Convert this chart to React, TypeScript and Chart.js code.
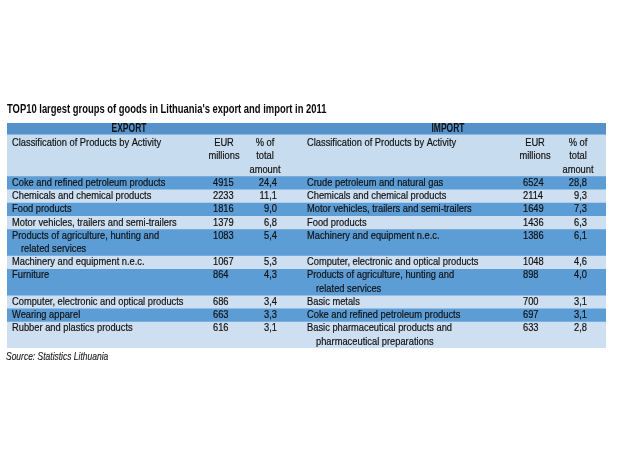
import React, { useEffect, useRef } from "react";
import { Chart, registerables } from "chart.js";
Chart.register(...registerables);

const TITLE = "TOP10 largest groups of goods in Lithuania's export and import in 2011";
const SOURCE = "Source: Statistics Lithuania";
const SECTIONS = ["EXPORT", "IMPORT"];
const NAME_HEADER = ["Classification of Products by Activity"];
const EUR_HEADER = ["EUR", "millions"];
const SHARE_HEADER = ["% of", "total", "amount"];

const exportProducts: string[][] = [
  ["Coke and refined petroleum products"],
  ["Chemicals and chemical products"],
  ["Food products"],
  ["Motor vehicles, trailers and semi-trailers"],
  ["Products of agriculture, hunting and", "related services"],
  ["Machinery and equipment n.e.c."],
  ["Furniture"],
  ["Computer, electronic and optical products"],
  ["Wearing apparel"],
  ["Rubber and plastics products"],
];
const exportEur = [4915, 2233, 1816, 1379, 1083, 1067, 864, 686, 663, 616];
const exportShare = [24.4, 11.1, 9.0, 6.8, 5.4, 5.3, 4.3, 3.4, 3.3, 3.1];

const importProducts: string[][] = [
  ["Crude petroleum and natural gas"],
  ["Chemicals and chemical products"],
  ["Motor vehicles, trailers and semi-trailers"],
  ["Food products"],
  ["Machinery and equipment n.e.c."],
  ["Computer, electronic and optical products"],
  ["Products of agriculture, hunting and", "related services"],
  ["Basic metals"],
  ["Coke and refined petroleum products"],
  ["Basic pharmaceutical products and", "pharmaceutical preparations"],
];
const importEur = [6524, 2114, 1649, 1436, 1386, 1048, 898, 700, 697, 633];
const importShare = [28.8, 9.3, 7.3, 6.3, 6.1, 4.6, 4.0, 3.1, 3.1, 2.8];

// ---- style / layout constants ----
const FONT = '"Liberation Sans", Arial, sans-serif';
const TEXT = "#111111";
const HEADER_BG = "#5592cc";
const DARK_BG = "#5c9dd6";
const LIGHT_BG = "#cddff1";
const SUB_BG = "#c8dcef";
const HEADER_LINES = 0.85;
const SUB_LINES = 3.15;
const SUB_TEXT_OFFSET = 0.12;
const SUB_LINE_STEP = 1.02;
const TITLE_LINE = -1.02;
const SOURCE_GAP = 0.66;
const TABLE_WIDTH = 599;
const BODY_FONT = { size: 11.8, weight: "normal", style: "normal", hs: 0.79, stroke: 0.2 };
const HEAD_FONT = { size: 12, weight: "bold", style: "normal", hs: 0.71, stroke: 0 };
const TITLE_FONT = { size: 13, weight: "bold", style: "normal", hs: 0.724, stroke: 0 };
const SOURCE_FONT = { size: 11.5, weight: "normal", style: "italic", hs: 0.737, stroke: 0.15 };
// column positions in table units (0..TABLE_WIDTH)
const SIDES = [
  { section: 122, name: 5, eurLeft: 206, eurHdr: 217, shareRight: 270, shareHdr: 258 },
  { section: 441, name: 300, eurLeft: 516, eurHdr: 528, shareRight: 580, shareHdr: 571 },
];
const INDENT = 9;

const fmtShare = (v: number) => v.toFixed(1).replace(".", ",");

const rowLines = exportProducts.map((p, i) => Math.max(p.length, importProducts[i].length));
const TOTAL_LINES = HEADER_LINES + SUB_LINES + rowLines.reduce((a, b) => a + b, 0);

function drawText(ctx: CanvasRenderingContext2D, text: string, x: number, y: number, align: CanvasTextAlign, f: any, color = TEXT) {
  ctx.save();
  ctx.translate(x, y);
  ctx.scale(f.hs, 1);
  ctx.font = `${f.style} ${f.weight} ${f.size}px ${FONT}`;
  ctx.fillStyle = color;
  ctx.textAlign = align;
  ctx.textBaseline = "middle";
  ctx.fillText(text, 0, 0);
  if (f.stroke) {
    ctx.strokeStyle = color;
    ctx.lineWidth = f.stroke;
    ctx.strokeText(text, 0, 0);
  }
  ctx.restore();
}

const tablePlugin = {
  id: "tableText",
  afterDatasetsDraw(chart: any) {
    const ctx = chart.ctx;
    const y = chart.scales.y;
    const xt = chart.scales.xt;
    const X = (u: number) => xt.getPixelForValue(u);
    const Y = (l: number) => y.getPixelForValue(l);
    // title & source
    drawText(ctx, TITLE, X(0), Y(TITLE_LINE), "left", TITLE_FONT, "#0a0a0a");
    drawText(ctx, SOURCE, X(-1), Y(TOTAL_LINES + SOURCE_GAP), "left", SOURCE_FONT, "#1a1a1a");
    // section headers
    SECTIONS.forEach((s, i) => drawText(ctx, s, X(SIDES[i].section), Y(HEADER_LINES / 2), "center", HEAD_FONT));
    // sub headers
    const subStart = HEADER_LINES + SUB_TEXT_OFFSET;
    const subY = (k: number) => Y(subStart + k * SUB_LINE_STEP + 0.5);
    SIDES.forEach((c) => {
      NAME_HEADER.forEach((t, k) => drawText(ctx, t, X(c.name), subY(k), "left", BODY_FONT));
      EUR_HEADER.forEach((t, k) => drawText(ctx, t, X(c.eurHdr), subY(k), "center", BODY_FONT));
      SHARE_HEADER.forEach((t, k) => drawText(ctx, t, X(c.shareHdr), subY(k), "center", BODY_FONT));
    });
    // data rows
    let start = HEADER_LINES + SUB_LINES;
    rowLines.forEach((n, i) => {
      const sides = [
        { p: exportProducts[i], e: exportEur[i], s: exportShare[i] },
        { p: importProducts[i], e: importEur[i], s: importShare[i] },
      ];
      sides.forEach((d, si) => {
        const c = SIDES[si];
        d.p.forEach((t, k) => drawText(ctx, t, X(c.name + (k > 0 ? INDENT : 0)), Y(start + k + 0.5), "left", BODY_FONT));
        drawText(ctx, String(d.e), X(c.eurLeft), Y(start + 0.5), "left", BODY_FONT);
        drawText(ctx, fmtShare(d.s), X(c.shareRight), Y(start + 0.5), "right", BODY_FONT);
      });
      start += n;
    });
  },
};

export default function App() {
  const ref = useRef<HTMLCanvasElement>(null);
  useEffect(() => {
    document.body.style.margin = "0";
    const rows = [
      { lines: HEADER_LINES, color: HEADER_BG },
      { lines: SUB_LINES, color: SUB_BG },
      ...rowLines.map((n, i) => ({ lines: n, color: i % 2 === 0 ? DARK_BG : LIGHT_BG })),
    ];
    const chart = new Chart(ref.current!, {
      type: "bar",
      data: {
        labels: ["table"],
        datasets: rows.map((r, i) => ({
          label: "row" + i,
          data: [r.lines],
          backgroundColor: r.color,
          borderWidth: 0,
          barPercentage: 1,
          categoryPercentage: 1,
          stack: "t",
        })),
      },
      options: {
        animation: false,
        responsive: false,
        events: [],
        layout: { padding: { top: 123, left: 7, right: 17, bottom: 118 } },
        scales: {
          x: { display: false, stacked: true, grid: { display: false } },
          xt: { type: "linear", display: false, min: 0, max: TABLE_WIDTH, axis: "x", position: "bottom", offset: false, grid: { offset: false, display: false } },
          y: { display: false, stacked: true, reverse: true, min: 0, max: TOTAL_LINES, grid: { display: false } },
        },
        plugins: {
          legend: { display: false },
          tooltip: { enabled: false },
          title: { display: false },
          subtitle: { display: false },
        },
      } as any,
      plugins: [tablePlugin],
    });
    return () => chart.destroy();
  }, []);
  return (
    <div style={{ width: 623, height: 466, background: "#fff" }}>
      <canvas ref={ref} width={623} height={466} style={{ display: "block" }} />
    </div>
  );
}
